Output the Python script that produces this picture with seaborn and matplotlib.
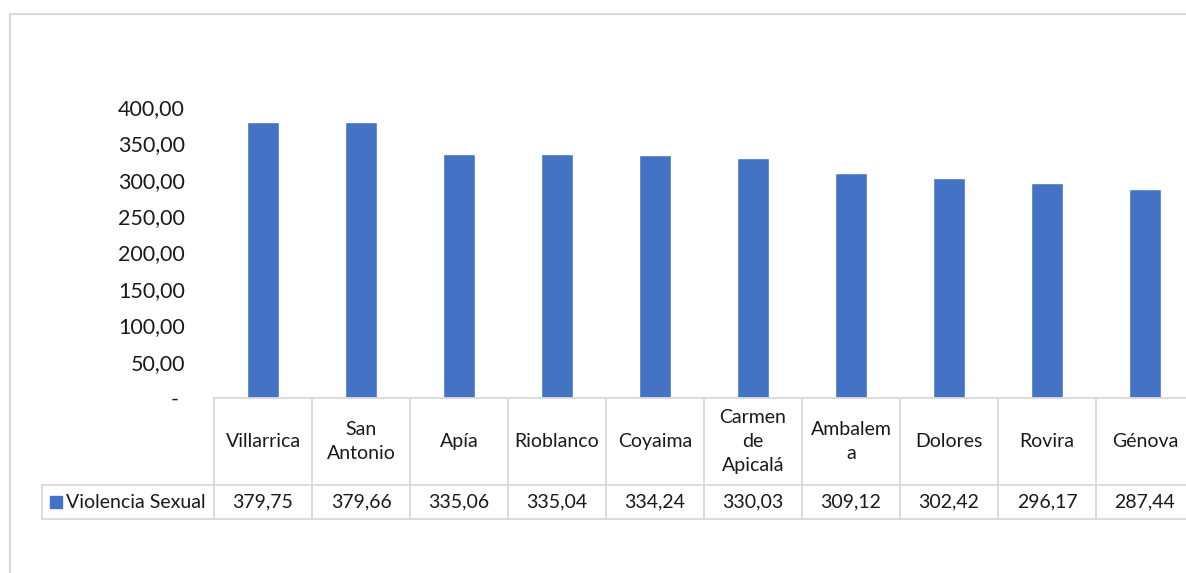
import matplotlib
matplotlib.use("Agg")
import matplotlib.pyplot as plt
import seaborn as sns
from matplotlib.lines import Line2D
from matplotlib.patches import Rectangle

# data
municipios = ['Villarrica', 'San Antonio', 'Apía', 'Rioblanco', 'Coyaima',
              'Carmen de Apicalá', 'Ambalema', 'Dolores', 'Rovira', 'Génova']
etiquetas = ['Villarrica', 'San\nAntonio', 'Apía', 'Rioblanco', 'Coyaima',
             'Carmen\nde\nApicalá', 'Ambalem\na', 'Dolores', 'Rovira', 'Génova']
violencia_sexual = [379.75, 379.66, 335.06, 335.04, 334.24,
                    330.03, 309.12, 302.42, 296.17, 287.44]
serie = 'Violencia Sexual'
y_ticks = [0, 50, 100, 150, 200, 250, 300, 350, 400]

azul = '#4472C4'
gris = '#D9D9D9'
texto = '#1A1A1A'

sns.set_style('white')
plt.rcParams['font.family'] = ['Lato', 'DejaVu Sans']

W, H = 1186, 573
fig = plt.figure(figsize=(W / 100, H / 100), dpi=100)

# chart frame (right and bottom edges are cut off in the original)
fig.add_artist(Line2D([10 / W, 10 / W], [0, 1 - 14 / H], color=gris, lw=1.5))
fig.add_artist(Line2D([10 / W, 1], [1 - 14 / H, 1 - 14 / H], color=gris, lw=1.5))

# plot area: 214px -> 1194px wide (last column runs past the edge)
x0, x1 = 214, 1194
y_top, y_bot = 107, 398
ax = fig.add_axes([x0 / W, 1 - y_bot / H, (x1 - x0) / W, (y_bot - y_top) / H])

sns.barplot(x=municipios, y=violencia_sexual, color=azul, saturation=1,
            width=0.32, ax=ax)
ax.set_xlim(-0.5, len(municipios) - 0.5)
ax.set_ylim(0, 400)
ax.set_yticks(y_ticks)
ax.set_yticklabels(['- ' if t == 0 else f'{t:.2f}'.replace('.', ',') for t in y_ticks])
ax.tick_params(axis='y', length=0, pad=21, labelsize=15.5, labelcolor=texto)
ax.set_xticks([])
ax.set_xlabel('')
ax.set_ylabel('')
for s in ax.spines.values():
    s.set_visible(False)

# data table under the axis, in axes-y units
px = 1 / (y_bot - y_top)
head_bot = -(485 - y_bot) * px
row_bot = -(519 - y_bot) * px
leg_left = (42 - x0) / (x1 - x0)

tr = ax.get_xaxis_transform()
kw = dict(color=gris, lw=1.3, clip_on=False)
n = len(municipios)
ax.add_line(Line2D([-0.5, n - 0.5], [0, 0], transform=tr, **kw))
ax.add_line(Line2D([leg_left, 1], [head_bot, head_bot], transform=ax.transAxes, **kw))
ax.add_line(Line2D([leg_left, 1], [row_bot, row_bot], transform=ax.transAxes, **kw))
ax.add_line(Line2D([leg_left, leg_left], [head_bot, row_bot], transform=ax.transAxes, **kw))
for i in range(n + 1):
    ax.add_line(Line2D([i - 0.5, i - 0.5], [0, row_bot], transform=tr, **kw))

for i, (lab, v) in enumerate(zip(etiquetas, violencia_sexual)):
    ax.text(i, head_bot / 2, lab, transform=tr, ha='center', va='center',
            fontsize=14, color=texto, linespacing=1.5, clip_on=False)
    ax.text(i, (head_bot + row_bot) / 2, f'{v:.2f}'.replace('.', ','),
            transform=tr, ha='center', va='center', fontsize=14,
            color=texto, clip_on=False)

# legend key inside the table
sq = 12 / (x1 - x0)
ax.add_patch(Rectangle(((50 - x0) / (x1 - x0), (head_bot + row_bot) / 2 - 6 * px),
                       sq, 12 * px, transform=ax.transAxes, color=azul, clip_on=False))
ax.text((66 - x0) / (x1 - x0), (head_bot + row_bot) / 2, serie,
        transform=ax.transAxes, ha='left', va='center', fontsize=14,
        color=texto, clip_on=False)

fig.savefig('out.png', dpi=100)
